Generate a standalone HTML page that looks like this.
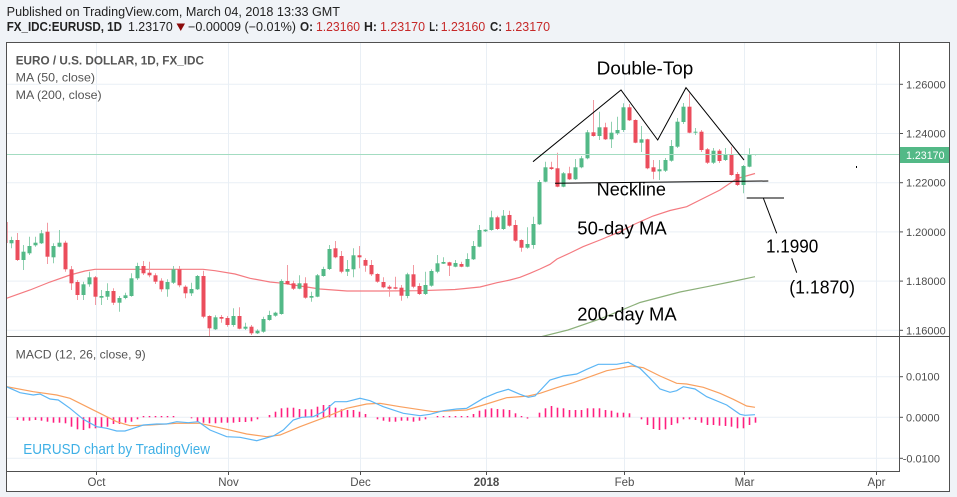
<!DOCTYPE html>
<html><head><meta charset="utf-8"><style>
html,body{margin:0;padding:0;background:#f0f3f7;}
svg{display:block;font-family:"Liberation Sans",sans-serif;}
</style></head><body>
<svg id="c" width="957" height="497" viewBox="0 0 957 497" xmlns="http://www.w3.org/2000/svg">
<rect width="957" height="497" fill="#f0f3f7"/>
<rect x="6.5" y="42.5" width="943" height="449" fill="#ffffff"/>
<defs>
<clipPath id="pp"><rect x="7" y="43" width="892" height="293"/></clipPath>
<clipPath id="mp"><rect x="7" y="337" width="892" height="134"/></clipPath>
</defs>
<g id="grid" stroke="#e9eff5" stroke-width="1"></g>
<g id="ma" clip-path="url(#pp)" fill="none"></g>
<g id="cand" clip-path="url(#pp)"></g>
<line x1="7" y1="154.5" x2="899" y2="154.5" stroke="#a3dcc1" stroke-width="1"/>
<g id="macd" clip-path="url(#mp)"></g>
<!-- annotations -->
<g stroke="#000" stroke-width="1" fill="none">
<polyline points="533,161.7 621,90 657.7,140 686,87.7 744,160"/>
<line x1="555" y1="183.3" x2="768.3" y2="181"/>
<line x1="746.7" y1="198" x2="784" y2="198"/>
<line x1="763.3" y1="198" x2="776.7" y2="233.3"/>
<line x1="791.7" y1="258.3" x2="796.7" y2="272.7"/>
</g>
<rect x="856" y="166" width="1" height="2" fill="#000"/>
<g fill="#000" font-size="18">
<text x="596.7" y="74.3" textLength="96.6" lengthAdjust="spacingAndGlyphs">Double-Top</text>
<text x="596.7" y="195.7" textLength="69.3" lengthAdjust="spacingAndGlyphs">Neckline</text>
<text x="577.3" y="234.3" textLength="89.4" lengthAdjust="spacingAndGlyphs">50-day MA</text>
<text x="577.3" y="320.7" textLength="99.4" lengthAdjust="spacingAndGlyphs">200-day MA</text>
<text x="766" y="252.3" textLength="52.3" lengthAdjust="spacingAndGlyphs">1.1990</text>
<text x="789.3" y="293.3" textLength="65.7" lengthAdjust="spacingAndGlyphs">(1.1870)</text>
</g>
<!-- frame -->
<g stroke="#505050" stroke-width="1" fill="none">
<rect x="6.5" y="42.5" width="943" height="449"/>
<line x1="899.5" y1="42" x2="899.5" y2="472"/>
<line x1="6" y1="336.5" x2="950" y2="336.5"/>
<line x1="6" y1="471.5" x2="900" y2="471.5"/>
</g>
<g id="axes" font-size="11" fill="#4d4d4d"></g>
<!-- price label -->
<rect x="900" y="147" width="49" height="16" fill="#53b987"/>
<text x="906" y="159" font-size="11" fill="#ffffff" textLength="38.5" lengthAdjust="spacingAndGlyphs">1.23170</text>
<!-- legends -->
<g font-size="12" fill="#555">
<text x="15.7" y="64.3" font-weight="bold" textLength="188.3" lengthAdjust="spacingAndGlyphs">EURO / U.S. DOLLAR, 1D, FX_IDC</text>
<text x="15.7" y="81.7" textLength="79.3" lengthAdjust="spacingAndGlyphs">MA (50, close)</text>
<text x="15.7" y="99" textLength="86" lengthAdjust="spacingAndGlyphs">MA (200, close)</text>
<text x="15.7" y="358.3" textLength="130" lengthAdjust="spacingAndGlyphs">MACD (12, 26, close, 9)</text>
</g>
<text x="23.3" y="454" font-size="14.5" fill="#3fb0e6" textLength="186.7" lengthAdjust="spacingAndGlyphs">EURUSD chart by TradingView</text>
<!-- header -->
<text x="6.7" y="16" font-size="12.5" fill="#222" textLength="333.3" lengthAdjust="spacingAndGlyphs">Published on TradingView.com, March 04, 2018 13:33 GMT</text>
<g font-size="12.5" fill="#222">
<text x="6.7" y="31" font-weight="bold" textLength="115.3" lengthAdjust="spacingAndGlyphs">FX_IDC:EURUSD, 1D</text>
<text x="128" y="31" textLength="44.7" lengthAdjust="spacingAndGlyphs">1.23170</text>
<polygon points="176.5,23.5 185,23.5 180.75,31" fill="#8b0a0a"/>
<text x="188" y="31" textLength="108" lengthAdjust="spacingAndGlyphs">−0.00009 (−0.01%)</text>
<text x="300" y="31" font-weight="bold" textLength="13" lengthAdjust="spacingAndGlyphs">O:</text>
<text x="316" y="31" fill="#c62828" textLength="44" lengthAdjust="spacingAndGlyphs">1.23160</text>
<text x="364" y="31" font-weight="bold" textLength="13" lengthAdjust="spacingAndGlyphs">H:</text>
<text x="380" y="31" fill="#c62828" textLength="45" lengthAdjust="spacingAndGlyphs">1.23170</text>
<text x="429.3" y="31" font-weight="bold" textLength="9" lengthAdjust="spacingAndGlyphs">L:</text>
<text x="440.7" y="31" fill="#c62828" textLength="44.5" lengthAdjust="spacingAndGlyphs">1.23160</text>
<text x="490" y="31" font-weight="bold" textLength="12" lengthAdjust="spacingAndGlyphs">C:</text>
<text x="505" y="31" fill="#c62828" textLength="45" lengthAdjust="spacingAndGlyphs">1.23170</text>
</g>
</svg>
<script>
(function(){
var NS="http://www.w3.org/2000/svg";
function el(tag,attrs,parent,txt){var e=document.createElementNS(NS,tag);for(var k in attrs)e.setAttribute(k,attrs[k]);if(txt!==undefined)e.textContent=txt;parent.appendChild(e);return e;}
var grid=document.getElementById('grid'),ma=document.getElementById('ma'),cand=document.getElementById('cand'),macd=document.getElementById('macd'),axes=document.getElementById('axes');
// grid
var hy=[84.3,133.5,182.7,231.9,281.1,330.3];
hy.forEach(function(y){el('line',{x1:7,y1:y,x2:899,y2:y},grid);});
[376.7,417.3,458.3].forEach(function(y){el('line',{x1:7,y1:y,x2:899,y2:y},grid);});
var vx=[96.5,228.5,360.5,486.5,624.5,744.5,876.5];
vx.forEach(function(x){el('line',{x1:x,y1:43,x2:x,y2:471},grid);});
// axis labels
var pl=['1.26000','1.24000','1.22000','1.20000','1.18000','1.16000'];
hy.forEach(function(y,i){el('line',{x1:899.5,y1:y,x2:903,y2:y,stroke:'#505050'},axes);el('text',{x:906,y:y+4},axes,pl[i]);});
var ml=[[376.7,'0.0100',906],[417.3,'0.0000',906],[458.3,'-0.0100',902.7]];
ml.forEach(function(m){el('line',{x1:899.5,y1:m[0],x2:903,y2:m[0],stroke:'#505050'},axes);el('text',{x:m[2],y:m[0]+4},axes,m[1]);});
var xl=['Oct','Nov','Dec','2018','Feb','Mar','Apr'];
vx.forEach(function(x,i){el('line',{x1:x,y1:472,x2:x,y2:475,stroke:'#505050'},axes);var t=el('text',{x:x,y:486,'text-anchor':'middle','font-size':'11.5'},axes,xl[i]);if(xl[i]==='2018')t.setAttribute('font-weight','bold');});
// MAs
var ma50=[[6.5,298.3],[30,290],[50,282],[70,275],[85,271],[95,269.3],[150,269.3],[203,269.3],[215,270.7],[235,274],[250,278.3],[270,282],[283,283.3],[300,286],[320,289],[347,291],[380,291],[420,290.7],[455,289.5],[480,287],[497,282.7],[510,280],[520,277.3],[530,273.3],[540,269],[550,264.3],[557,259],[570,253],[583,246.7],[600,240],[620,231.7],[635,224],[653,216],[670,210.5],[686.7,206.7],[700,200],[720,190],[737,178.5],[755,173.5]];
var ma200=[[540,337],[568,330],[600,319],[640,302.5],[680,292],[707,286.7],[730,282],[755,276.7]];
function pts(a){return a.map(function(p){return p[0]+','+p[1];}).join(' ');}
el('polyline',{points:pts(ma50),stroke:'#f47a80','stroke-width':1.2},ma);
el('polyline',{points:pts(ma200),stroke:'#8cb07a','stroke-width':1.2},ma);
// candles
var D="r,222,243,221,244;g,240,243.3,236.7,248.3;r,240,260,233,261;g,251.7,260,245,270;g,246,253.3,236.7,255;g,242.7,245.3,236.7,246.7;g,233.3,243.3,230,244;r,231.7,256.7,222.7,264;g,246,257.3,243.3,263.3;g,242.7,246.7,230,247.3;r,242.7,269.3,240.7,271.7;r,269.3,283.3,266,290;r,282,295,280,300;g,284.3,295,281.7,300;g,277.3,284.3,271.7,286.7;r,277.3,296.7,276,305;g,296,297.7,290,305;g,291,296.7,283.3,300;r,291,302.7,288.3,305;g,298,302.7,296,311.7;g,295.3,298,292.7,299.3;g,278.3,296,273.3,296.7;g,266,278.3,262.7,280;r,266,273.3,261,275;r,272.7,275.3,261.7,277.3;r,275.3,281.7,273.3,284;r,280.7,289.3,278.3,291.7;g,282,289.3,279.3,296.7;g,269.3,282.7,266,284;r,269.3,285.3,266,287.3;r,286.7,293.3,285.3,298.3;g,289,293.3,282.7,296;g,276,289.3,275,290;r,276,316.7,270.7,318.3;r,316,328.3,315.3,336.7;g,317.3,329.3,315.3,330;r,317,318.7,315,322.7;r,318,325,316,326.7;g,316,325,308.3,326.7;r,316,328.7,307.3,329.3;g,326.7,328.7,322.7,330;r,326.7,333.3,325,335;g,330.7,333.3,329.3,334;g,319,331.7,316.7,332.7;g,315,320,310.7,320.7;g,312.7,315.7,311.7,316.7;g,281,314,279.3,314.7;r,281,284,265,285;r,283.3,288.7,280.7,290;g,283.3,288.7,275.3,289.3;r,283.3,297.7,277.3,298.7;g,296,297.7,291.7,301.7;g,275.3,296.7,274,297.3;g,269,276,266.7,276.7;g,249,269,245,270;r,248.3,257.3,241,258.3;r,256,271.7,251,273.3;g,269,271.7,260,276;g,255.3,269.3,248.3,277.3;r,255.3,257.3,246,268.3;r,260,265.7,258.3,271.7;r,265,274.3,260,276;r,274,281.7,273.3,282.7;r,282,287.3,277.3,288.3;r,286.7,288.7,285,296.7;r,287.3,288.7,276.7,289.3;r,287.7,295.7,285,300.7;g,274.3,296,272.7,298.3;r,274.3,286.7,265,288.3;r,286,294,283.3,295;g,285,294,271.7,295;g,271,285.7,269.3,286.7;g,263.3,271.7,255,273.3;g,262,263.7,257.3,264;r,262.3,265.7,261.7,276;g,263,266.7,260,267.3;r,264,266.7,261.7,267.3;g,259,266.7,253.3,267.3;g,246,259.3,241,260;g,230,246.7,225,247.3;g,229.7,231.3,229.3,232;g,217.3,230,210.7,230.7;r,217.3,229,215.7,230;g,215.7,229,210,230;r,215,225.7,210.7,226.7;r,225,240.7,220,241.7;r,240,247.7,239.3,251.7;g,244,247.7,227.3,248.7;g,224,245,216.7,248.7;g,182,224.3,180,225;g,167.3,181.7,161.7,182.3;r,167.3,169,161.7,170;r,168.3,186.7,152.7,187.3;g,173.3,186.7,172,187.3;r,173.3,179.3,166.7,180;g,167.3,179.3,159,180;g,158.3,167.3,156,168.3;g,132.3,158.3,130,159.3;r,132.3,136,100,136.7;g,127.3,136,111.7,140;r,127.3,139.3,122.7,140;g,132.7,139.3,121.7,148;g,130,133.3,116.7,135;g,107.3,130,103.3,132;r,107.3,120.3,104,121;r,120,142.7,119.3,143.3;g,139.3,142.7,126,152;r,139.3,168.3,138.7,169.3;r,167.3,171.7,160,179.3;g,169.3,171.3,160,180;g,160,170.7,158,172;g,146,160.7,140,161.7;g,121.7,146.7,118,148;g,106.7,122,103,124;r,106.7,132.7,93.3,133.3;g,131.7,132.7,128,135;r,131.7,150,130,152;r,149.3,162.7,148,164;g,150.7,162.7,148,164;r,150.7,161,149,163;g,154,160,148,161;r,154,175,146.7,175.7;r,174,185,172,186;g,166,185,165,193.3;g,154,166.7,148.3,167.3;g,154,155,154,155.5";
var rows=D.split(';');
rows.forEach(function(r,i){
  var f=r.split(','),k=i-80,x=485.5+6*k;
  var col=f[0]==='g'?'#53b987':'#eb4d5c';
  var wcol=f[0]==='g'?'#8fd0b0':'#f29aa2';
  var bt=+f[1],bb=+f[2],wt=+f[3],wb=+f[4];
  el('line',{x1:x,y1:wt,x2:x,y2:wb,stroke:wcol,'stroke-width':1},cand);
  var h=Math.max(1,bb-bt);
  el('rect',{x:x-2,y:bt,width:4,height:h,fill:col},cand);
});
// MACD
var blue=[[6.5,386.7],[20,392.7],[33.3,395],[40,394],[50,399],[58.3,400],[70,408.3],[83.3,419.3],[96.7,426.7],[106.7,428.3],[116.7,431],[125,431],[133.3,428.3],[143.3,425],[156.7,424],[166.7,424],[176.7,421.7],[188.3,422.7],[198.3,421.7],[210,430],[226.7,436.7],[240,437.3],[256.7,440.7],[273.3,436],[283.3,430],[293.3,420],[301.7,417.3],[313.3,416.7],[323.3,411.7],[335,401.7],[346.7,401.7],[360,398.3],[370,400.7],[383.3,406.7],[403.3,413.3],[420,415.7],[430,414.3],[443.3,410.7],[456.7,409],[466.7,408.3],[483.3,398.3],[496.7,392.7],[508.3,389.3],[520,394.3],[528.3,397.3],[535,396],[550,380],[563.3,376],[576.7,374],[586.7,369.3],[598.3,364.3],[616.7,364.3],[628.3,362.3],[640,368.3],[650,378.3],[660,389],[670,392.3],[676.7,390.7],[683.3,386.7],[695,389],[706.7,396.7],[726.7,405],[740,414.3],[745,415.3],[755,414.7]];
var orng=[[6.5,386.7],[33.3,391.7],[56.7,395],[70,398.3],[96.7,411.7],[116.7,421.7],[130,425.7],[150,425],[176.7,423.3],[200,423.3],[226.7,429.3],[246.7,434],[266.7,436.7],[280,435],[300,426.7],[326.7,416.7],[346.7,408.3],[366.7,404],[380,403.3],[400,406.7],[433.3,411.7],[466.7,410],[483.3,405],[506.7,397.7],[528.3,396],[540,393.3],[556.7,387.7],[573.3,382.7],[590,376.7],[606.7,370.7],[620,368.3],[631.7,366],[643.3,367.7],[660,376],[676.7,383.3],[686.7,384],[703.3,387.3],[720,393.3],[733.3,399.3],[746.7,406],[755,407.3]];
var Z=417.3;
// measured histogram bar ends, k from -78 to 45 (0 = no bar, 'p' tiny positive dot, 'n' tiny negative dot)
var H=[420,420.7,420.7,420,420.7,421.7,422.7,422.7,423.3,426.7,429.3,430,428.3,428.3,427.7,426.7,424,424,422.7,421.7,419.3,
'p','p','p','p','p','p',0,0,
418.3,421.7,422.7,423.3,423.3,422.7,422.7,422.7,422,422,421.3,419.3,0,
415,411.7,408.3,407.7,407.7,409,409.3,409.3,406.7,405,405,407.7,409.3,410,410,411.7,414,0,
419.3,420.7,421.7,421.7,420.7,420.7,421.7,420.7,419.3,0,
'p','p','p','p','p','p',
414,410.7,409.3,408.3,409,409.3,410,413.3,'p','n',0,
412.7,408.3,406,407.7,408.3,410,410,410,408.3,408.3,408.3,410,410.7,412.7,412.7,413.3,0,
419.3,425,429,430,429.3,425,423.3,419.3,419.3,420,422.7,425,425,425.7,426,426.7,428.3,428.3,425,422.7];
for(var i=0;i<H.length;i++){
  var k=-78+i, x=485.5+6*k, v=H[i], y1, h;
  if(v===0) continue;
  if(v==='p'){y1=Z-1.3;h=1.3;}
  else if(v==='n'){y1=Z;h=1.3;}
  else if(v>Z){y1=Z;h=v-Z;}
  else {y1=v;h=Z-v;}
  el('rect',{x:x-0.8,y:y1,width:1.6,height:h,fill:'#ff1f7f'},macd);
}
el('polyline',{points:pts(orng),fill:'none',stroke:'#f9a05f','stroke-width':1.2},macd);
el('polyline',{points:pts(blue),fill:'none',stroke:'#5cb6f5','stroke-width':1.2},macd);
})();
</script>
</body></html>
